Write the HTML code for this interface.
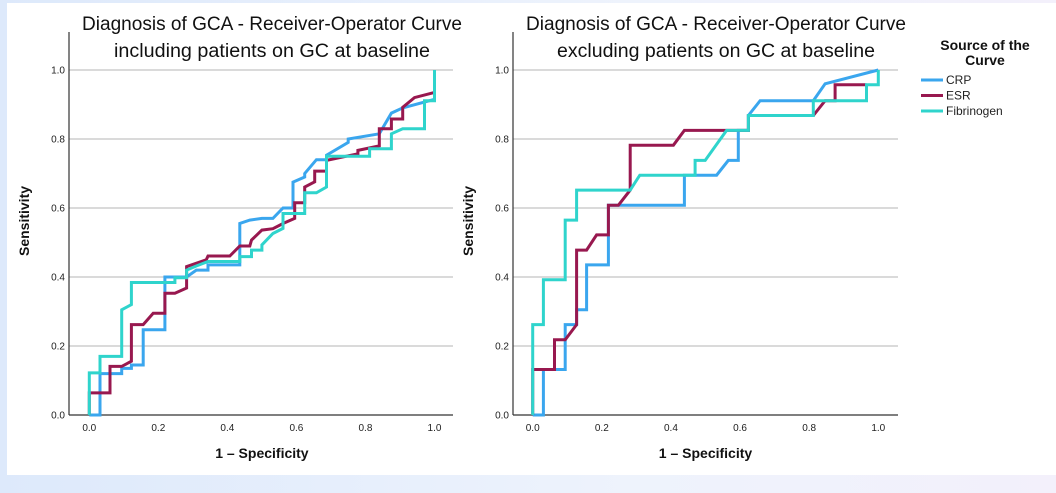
<!DOCTYPE html>
<html><head><meta charset="utf-8">
<style>
html,body{margin:0;padding:0;}
body{width:1056px;height:493px;overflow:hidden;background:linear-gradient(90deg,#dde9fb,#eef3fc 60%,#f3f0fb);font-family:"Liberation Sans",sans-serif;}
svg{display:block;}
</style></head>
<body>
<svg id="chart" width="1056" height="493">
<rect x="7" y="3" width="1049" height="472" fill="#ffffff"/>
</svg>
<script>
// ----- data -----
const ticks = [0, 0.2, 0.4, 0.6, 0.8, 1.0];
const tickLabels = ["0.0","0.2","0.4","0.6","0.8","1.0"];
const seriesNames = ["CRP","ESR","Fibrinogen"];
const seriesColors = ["#3aa6ee","#98184f","#2fd4cc"];

const incCrpX = [0,0.031,0.031,0.065,0.094,0.094,0.122,0.122,0.156,0.156,0.219,0.219,0.248,0.282,0.31,0.344,0.344,0.436,0.436,0.465,0.5,0.532,0.561,0.59,0.59,0.624,0.624,0.658,0.687,0.687,0.75,0.75,0.84,0.875,0.908,1,1];
const incCrpY = [0,0,0.12,0.12,0.12,0.135,0.135,0.145,0.145,0.247,0.247,0.40,0.40,0.40,0.42,0.42,0.435,0.435,0.555,0.565,0.57,0.57,0.60,0.60,0.675,0.69,0.70,0.74,0.74,0.753,0.79,0.80,0.815,0.875,0.89,0.915,1.0];
const incEsrX = [0,0,0.06,0.06,0.094,0.122,0.122,0.156,0.185,0.219,0.219,0.248,0.282,0.282,0.339,0.344,0.407,0.436,0.465,0.47,0.5,0.532,0.561,0.595,0.595,0.624,0.624,0.653,0.653,0.687,0.687,0.778,0.778,0.84,0.84,0.875,0.875,0.908,0.908,0.942,1.0];
const incEsrY = [0,0.064,0.064,0.141,0.141,0.156,0.262,0.262,0.295,0.295,0.353,0.353,0.368,0.43,0.45,0.461,0.461,0.49,0.49,0.507,0.536,0.54,0.555,0.57,0.615,0.615,0.661,0.676,0.707,0.707,0.738,0.757,0.767,0.78,0.83,0.83,0.858,0.858,0.892,0.92,0.935];
const incFibX = [0,0,0.031,0.031,0.094,0.094,0.122,0.122,0.248,0.248,0.282,0.282,0.31,0.344,0.436,0.436,0.47,0.47,0.5,0.5,0.532,0.561,0.561,0.624,0.624,0.658,0.687,0.687,0.812,0.812,0.875,0.875,0.908,0.971,0.971,1.0,1.0];
const incFibY = [0,0.122,0.122,0.17,0.17,0.305,0.32,0.384,0.384,0.398,0.398,0.42,0.432,0.445,0.445,0.459,0.459,0.478,0.478,0.493,0.526,0.541,0.584,0.584,0.644,0.644,0.661,0.75,0.75,0.772,0.772,0.815,0.83,0.83,0.911,0.911,1.0];

const excCrpX = [0,0.031,0.031,0.094,0.094,0.127,0.127,0.156,0.156,0.219,0.219,0.439,0.439,0.532,0.566,0.595,0.595,0.624,0.624,0.658,0.812,0.846,1.0];
const excCrpY = [0,0,0.132,0.132,0.262,0.262,0.305,0.305,0.435,0.435,0.608,0.608,0.695,0.695,0.738,0.738,0.825,0.825,0.868,0.911,0.911,0.96,1.0];
const excEsrX = [0,0,0.063,0.063,0.094,0.127,0.127,0.156,0.185,0.219,0.219,0.248,0.282,0.282,0.407,0.439,0.561,0.624,0.624,0.812,0.846,0.875,0.875,0.966];
const excEsrY = [0,0.132,0.132,0.218,0.218,0.262,0.478,0.478,0.522,0.522,0.608,0.608,0.652,0.782,0.782,0.825,0.825,0.825,0.868,0.868,0.911,0.911,0.957,0.957];
const excFibX = [0,0,0.031,0.031,0.094,0.094,0.127,0.127,0.282,0.31,0.47,0.47,0.499,0.561,0.624,0.624,0.812,0.812,0.966,0.966,1.0,1.0];
const excFibY = [0,0.262,0.262,0.392,0.392,0.565,0.565,0.652,0.652,0.695,0.695,0.738,0.738,0.825,0.825,0.868,0.868,0.911,0.911,0.957,0.957,1.0];

const NS = "http://www.w3.org/2000/svg";
const svg = document.getElementById("chart");
function mk(tag, attrs, parent){const e=document.createElementNS(NS,tag);for(const k in attrs)e.setAttribute(k,attrs[k]);(parent||svg).appendChild(e);return e;}

const y0 = 415, y1 = 70;
function yScale(v){return y0 + (y1-y0)*v;}

function drawPanel(p){
  const xScale = v => p.x0 + (p.x1-p.x0)*v;
  const g = mk("g",{});
  
  
  // gridlines
  ticks.forEach((t,i)=>{
    if(t>0){
      const gl = mk("line",{x1:p.axisX,x2:p.gridEnd,y1:yScale(t),y2:yScale(t),stroke:"#b4b4b4","stroke-width":1},g);
      
      
    }
    const yl = mk("text",{x:p.axisX-4,y:yScale(t)+3.5,"font-size":"10","text-anchor":"end",fill:"#222"},g);
    yl.textContent = tickLabels[i];
    
    
    const xl = mk("text",{x:xScale(t),y:y0+16,"font-size":"10","text-anchor":"middle",fill:"#222"},g);
    xl.textContent = tickLabels[i];
    
    
  });
  const ya = mk("line",{x1:p.axisX,x2:p.axisX,y1:32,y2:y0,stroke:"#333","stroke-width":1.2},g);
  
  
  const xa = mk("line",{x1:p.axisX,x2:p.gridEnd,y1:y0,y2:y0,stroke:"#333","stroke-width":1.2},g);
  
  
  // series
  p.series.forEach((s,i)=>{
    const pts = s[0].map((xv,j)=>xScale(xv).toFixed(1)+","+yScale(s[1][j]).toFixed(1)).join(" ");
    const pl = mk("polyline",{points:pts,fill:"none",stroke:seriesColors[i],"stroke-width":3,"stroke-linejoin":"miter"},g);
    
    
  });
  // titles
  p.title.forEach((t,i)=>{
    const tt = mk("text",{x:p.titleX,y:30+i*27,"font-size":"19","text-anchor":"middle",fill:"#111",textLength:p.titleLen[i],lengthAdjust:"spacingAndGlyphs"},g);
    tt.textContent = t;
    
    
  });
  const xt = mk("text",{x:(p.x0+p.x1)/2,y:458,"font-size":"14","font-weight":"bold","text-anchor":"middle",fill:"#111"},g);
  xt.textContent = "1 \u2013 Specificity";
  
  
  const yt = mk("text",{x:0,y:0,"font-size":"14","font-weight":"bold","text-anchor":"middle",fill:"#111",transform:"translate("+(p.axisX-40)+",221) rotate(-90)"},g);
  yt.textContent = "Sensitivity";
  
  
}

drawPanel({name:"roc-chart-including",axisX:69,x0:89.3,x1:434.5,gridEnd:453,titleX:272,
  title:["Diagnosis of GCA - Receiver-Operator Curve","including patients on GC at baseline"],titleLen:[380,316],
  series:[[incCrpX,incCrpY],[incEsrX,incEsrY],[incFibX,incFibY]]});
drawPanel({name:"roc-chart-excluding",axisX:513,x0:532.7,x1:878.3,gridEnd:898,titleX:716,
  title:["Diagnosis of GCA - Receiver-Operator Curve","excluding patients on GC at baseline"],titleLen:[380,318],
  series:[[excCrpX,excCrpY],[excEsrX,excEsrY],[excFibX,excFibY]]});

// legend
const lg = mk("g",{});


["Source of the","Curve"].forEach((t,i)=>{
  const e = mk("text",{x:985,y:50+i*15,"font-size":"14","font-weight":"bold","text-anchor":"middle",fill:"#111"},lg);
  e.textContent = t;
  
  
});
seriesNames.forEach((n,i)=>{
  const y = 80 + i*15.5;
  const l = mk("line",{x1:921,x2:943,y1:y,y2:y,stroke:seriesColors[i],"stroke-width":3},lg);
  
  
  const t = mk("text",{x:946,y:y+4,"font-size":"12",fill:"#222"},lg);
  t.textContent = n;
  
  
});
</script>
</body></html>
